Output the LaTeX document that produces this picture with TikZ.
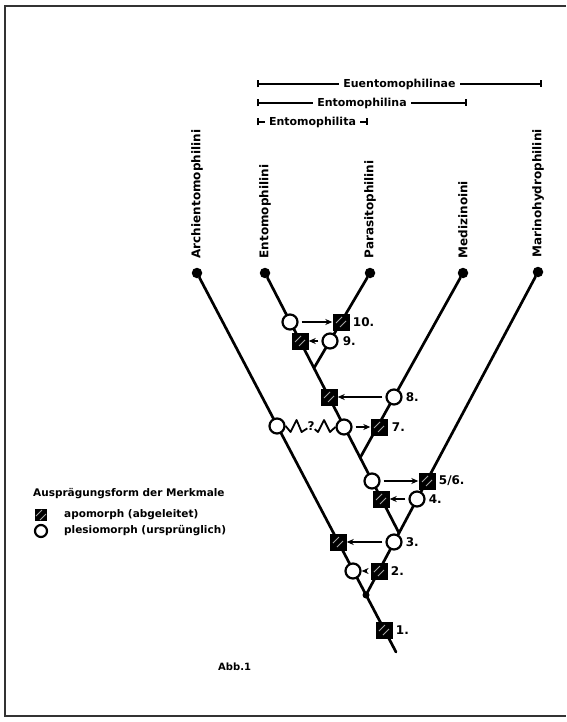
\documentclass[tikz,border=0pt]{standalone}
\usepackage{fontspec}
\setmainfont{DejaVu Sans}
\usetikzlibrary{arrows.meta, positioning, calc}
\tikzstyle{branchline} = [line width=2.7pt, line cap=round]
\tikzstyle{tipdot} = [circle, fill=black, inner sep=0pt, minimum size=10.5pt]
\tikzstyle{forkdot} = [circle, fill=black, inner sep=0pt, minimum size=7pt]
\tikzstyle{plesio} = [circle, draw=black, line width=2.2pt, fill=white, inner sep=0pt, minimum size=15pt]
\tikzstyle{apo} = [rectangle, fill=black, inner sep=0pt, minimum size=17pt, path picture={\draw[gray!70, line width=0.9pt] ([shift={(-5pt,-1pt)}]path picture bounding box.center) -- ([shift={(1pt,5pt)}]path picture bounding box.center) ([shift={(-1pt,-5pt)}]path picture bounding box.center) -- ([shift={(5pt,1pt)}]path picture bounding box.center);}]
\tikzstyle{taxon} = [rotate=90, anchor=west, inner sep=0pt, font=\fontsize{12}{14}\selectfont\bfseries]
\tikzstyle{charnum} = [inner sep=0pt, font=\fontsize{12}{14}\selectfont\bfseries]
\tikzstyle{clade} = [line width=1.6pt, {Bar[width=7pt]}-{Bar[width=7pt]}]
\tikzstyle{cladename} = [fill=white, inner xsep=4pt, inner ysep=1pt, font=\fontsize{11}{13}\selectfont\bfseries]
\tikzstyle{arrow} = [line width=1.8pt, -{Stealth[length=7pt,width=6pt]}, shorten <=3pt]
\tikzstyle{legendtext} = [anchor=west, inner sep=0pt, font=\fontsize{10.5}{12}\selectfont\bfseries]

\begin{document}
\begin{tikzpicture}[x=1pt, y=-1pt]
    \useasboundingbox (0,0) rectangle (566,722);
    \draw[line width=2pt, black!80] (566,6) -- (5,6) -- (5,716) -- (566,716);

    % clades
    \coordinate (euL) at (257,84);   \coordinate (euR) at (542,84);
    \coordinate (enL) at (257,103);  \coordinate (enR) at (467,103);
    \coordinate (etL) at (257,122);  \coordinate (etR) at (368,122);
    \draw[clade] (euL) -- (euR) node[cladename, midway] (euentomophilinae) {Euentomophilinae};
    \draw[clade] (enL) -- (enR) node[cladename, midway] (entomophilina) {Entomophilina};
    \draw[clade] (etL) -- (etR) node[cladename, midway] (entomophilita) {Entomophilita};

    % tips
    \node[tipdot] (archi) at (197,273) {};
    \node[tipdot] (ento) at (265,273) {};
    \node[tipdot] (para) at (370,273) {};
    \node[tipdot] (medi) at (463,273) {};
    \node[tipdot] (mari) at (538,272) {};
    \node[taxon] (larchi) at ([yshift=9pt]archi.north) {Archientomophilini};
    \node[taxon] (lento) at ([yshift=9pt]ento.north) {Entomophilini};
    \node[taxon] (lpara) at ([yshift=9pt]para.north) {Parasitophilini};
    \node[taxon] (lmedi) at ([yshift=9pt]medi.north) {Medizinoini};
    \node[taxon] (lmari) at ([yshift=9pt]mari.north) {Marinohydrophilini};

    % branches
    \coordinate (root) at (396,652);
    \coordinate (forkA) at (366,595);
    \coordinate (forkB) at (399,533);
    \coordinate (forkC) at (360,458);
    \coordinate (forkD) at (314,368);
    \draw[branchline] (root) -- (archi);
    \draw[branchline] (forkA) -- (mari);
    \draw[branchline] (forkB) -- (ento);
    \draw[branchline] (forkC) -- (medi);
    \draw[branchline] (forkD) -- (para);
    \node[forkdot] (fa) at (forkA) {};

    % characters
    \node[apo] (s1) at (384,630) {};
    \node[plesio] (c2) at (353,571) {};
    \node[apo] (s2) at (379,571) {};
    \node[apo] (s3) at (338,542) {};
    \node[plesio] (c3) at (394,542) {};
    \node[apo] (s4) at (381,499) {};
    \node[plesio] (c4) at (417,499) {};
    \node[plesio] (c56) at (372,481) {};
    \node[apo] (s56) at (427,481) {};
    \node[plesio] (cq) at (277,426) {};
    \node[plesio] (c7) at (344,427) {};
    \node[apo] (s7) at (379,427) {};
    \node[apo] (s8) at (329,397) {};
    \node[plesio] (c8) at (394,397) {};
    \node[apo] (s9) at (300,341) {};
    \node[plesio] (c9) at (330,341) {};
    \node[plesio] (c10) at (290,322) {};
    \node[apo] (s10) at (341,322) {};

    \node[charnum, right=3pt of s1] (n1) {1.};
    \node[charnum, right=3pt of s2] (n2) {2.};
    \node[charnum, right=3pt of c3] (n3) {3.};
    \node[charnum, right=3pt of c4] (n4) {4.};
    \node[charnum, right=3pt of s56] (n56) {5/6.};
    \node[charnum, right=4pt of s7] (n7) {7.};
    \node[charnum, right=3pt of c8] (n8) {8.};
    \node[charnum, right=4pt of c9] (n9) {9.};
    \node[charnum, right=3pt of s10] (n10) {10.};

    \draw[arrow] (s2) -- (c2);
    \draw[arrow] (c3) -- (s3);
    \draw[arrow] (c4) -- (s4);
    \draw[arrow] (c56) -- (s56);
    \draw[arrow] (c7) -- (s7);
    \draw[arrow] (c8) -- (s8);
    \draw[arrow] (c9) -- (s9);
    \draw[arrow] (c10) -- (s10);

    % uncertain link
    \node[charnum] (q) at (311,426) {?};
    \draw[line width=1.8pt, line join=round] (cq.east) -- ++(5,6) -- ++(6,-12) -- ++(5,12) -- (q);
    \draw[line width=1.8pt, line join=round] (q) -- ++(7,6) -- ++(6,-12) -- ++(6,12) -- (c7.west);

    % legend
    \node[legendtext] (lhead) at (33,494) {Ausprägungsform der Merkmale};
    \node[apo, minimum size=12pt] (lapo) at (41,515) {};
    \node[plesio, minimum size=12pt] (lple) at (41,531) {};
    \node[legendtext] (tapo) at (64,515) {apomorph (abgeleitet)};
    \node[legendtext] (tple) at (64,531) {plesiomorph (ursprünglich)};

    \node[legendtext, font=\fontsize{10}{12}\selectfont\bfseries] (abb) at (218,667) {Abb.1};
\end{tikzpicture}
\end{document}
